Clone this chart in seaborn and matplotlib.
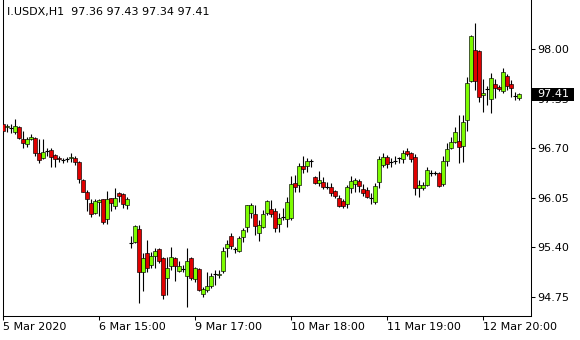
import numpy as np
import pandas as pd
import matplotlib
matplotlib.use("Agg")
import matplotlib.pyplot as plt
from matplotlib.patches import Rectangle
import seaborn as sns

# ---------------- data ----------------
opens = [97.02, 96.98, 96.97, 96.91, 96.98, 96.82, 96.76, 96.82, 96.83, 96.64,
         96.57, 96.66, 96.68, 96.61, 96.57, 96.55, 96.56, 96.57, 96.57, 96.52,
         96.28, 96.13, 95.98, 95.85, 95.99, 96.03, 95.77, 96.05, 95.94, 96.11,
         96.10, 95.95, 95.46, 95.47, 95.64, 95.08, 95.32, 95.17, 95.29, 95.38,
         95.26, 95.00, 95.15, 95.26, 95.09, 95.11, 95.02, 95.26, 94.98, 95.11,
         94.79, 94.84, 94.89, 95.05, 95.04, 95.09, 95.39, 95.55, 95.38, 95.35,
         95.54, 95.67, 95.85, 95.84, 95.59, 95.67, 95.85, 95.90, 95.88, 95.71,
         95.80, 95.77, 95.78, 96.24, 96.22, 96.47, 96.47, 96.53, 96.32, 96.24,
         96.26, 96.19, 96.19, 96.14, 96.05, 96.01, 95.97, 96.18, 96.23, 96.27,
         96.17, 96.15, 96.05, 95.99, 96.26, 96.48, 96.59, 96.52, 96.53, 96.57,
         96.56, 96.66, 96.64, 96.59, 96.18, 96.18, 96.22, 96.37, 96.37, 96.37,
         96.23, 96.53, 96.70, 96.78, 96.80, 96.73, 97.07, 97.58, 97.99, 97.98,
         97.40, 97.48, 97.35, 97.54, 97.50, 97.45, 97.65, 97.54, 97.39, 97.36]

highs = [97.03, 97.02, 97.02, 97.08, 96.99, 96.93, 96.85, 96.89, 96.85, 96.82,
         96.82, 96.70, 96.70, 96.62, 96.60, 96.57, 96.59, 96.64, 96.60, 96.53,
         96.30, 96.15, 96.03, 96.03, 96.03, 96.04, 96.14, 96.05, 96.18, 96.13,
         96.11, 96.06, 95.55, 95.69, 95.69, 95.32, 95.50, 95.34, 95.39, 95.39,
         95.27, 95.27, 95.40, 95.27, 95.22, 95.17, 95.39, 95.27, 95.14, 95.13,
         94.88, 95.08, 95.06, 95.10, 95.10, 95.40, 95.50, 95.59, 95.40, 95.55,
         95.65, 95.96, 95.98, 95.96, 95.76, 95.89, 96.02, 96.02, 95.92, 95.85,
         95.92, 96.06, 96.34, 96.35, 96.51, 96.60, 96.57, 96.56, 96.33, 96.40,
         96.32, 96.26, 96.24, 96.15, 96.09, 96.03, 96.22, 96.34, 96.31, 96.30,
         96.23, 96.19, 96.11, 96.24, 96.60, 96.64, 96.61, 96.57, 96.60, 96.58,
         96.68, 96.70, 96.65, 96.62, 96.28, 96.26, 96.45, 96.41, 96.40, 96.39,
         96.60, 96.77, 96.85, 96.98, 97.14, 97.14, 97.64, 98.19, 98.35, 97.99,
         97.61, 97.52, 97.69, 97.61, 97.53, 97.75, 97.68, 97.60, 97.44, 97.43]

lows = [96.89, 96.91, 96.90, 96.89, 96.82, 96.70, 96.72, 96.81, 96.60, 96.51,
        96.56, 96.60, 96.45, 96.45, 96.52, 96.51, 96.52, 96.52, 96.48, 96.24,
        96.12, 95.88, 95.80, 95.84, 95.81, 95.71, 95.71, 95.88, 95.90, 95.99,
        95.92, 95.90, 95.39, 95.46, 94.67, 94.83, 95.08, 95.13, 95.13, 95.19,
        94.72, 94.77, 95.10, 94.96, 95.08, 95.08, 94.62, 94.97, 94.94, 94.83,
        94.75, 94.81, 94.87, 94.90, 95.00, 95.06, 95.27, 95.38, 95.32, 95.34,
        95.47, 95.60, 95.78, 95.56, 95.48, 95.65, 95.82, 95.80, 95.60, 95.60,
        95.76, 95.67, 95.76, 96.13, 96.13, 96.38, 96.39, 96.45, 96.23, 96.20,
        96.17, 96.17, 96.07, 96.05, 95.93, 95.92, 95.92, 96.11, 96.13, 96.13,
        96.07, 96.05, 95.97, 95.97, 96.18, 96.45, 96.44, 96.45, 96.49, 96.51,
        96.51, 96.60, 96.52, 96.09, 96.06, 96.15, 96.20, 96.33, 96.35, 96.19,
        96.20, 96.47, 96.69, 96.77, 96.51, 96.52, 96.93, 97.57, 97.47, 97.31,
        97.18, 97.27, 97.16, 97.36, 97.45, 97.43, 97.47, 97.37, 97.33, 97.34]

closes = [96.93, 96.99, 96.97, 96.99, 96.83, 96.77, 96.82, 96.85, 96.64, 96.55,
          96.65, 96.66, 96.59, 96.56, 96.56, 96.55, 96.56, 96.59, 96.52, 96.30,
          96.13, 96.03, 95.84, 96.01, 96.02, 95.73, 96.03, 95.98, 96.05, 96.07,
          95.97, 96.03, 95.46, 95.68, 95.08, 95.26, 95.13, 95.29, 95.35, 95.22,
          94.77, 95.13, 95.27, 95.15, 95.15, 95.11, 95.22, 95.00, 95.13, 94.84,
          94.85, 94.89, 95.02, 95.05, 95.05, 95.35, 95.44, 95.42, 95.38, 95.52,
          95.63, 95.95, 95.95, 95.68, 95.69, 95.84, 96.01, 95.84, 95.65, 95.78,
          95.80, 95.99, 96.23, 96.19, 96.47, 96.43, 96.53, 96.53, 96.24, 96.28,
          96.19, 96.19, 96.11, 96.07, 95.94, 95.94, 96.19, 96.27, 96.28, 96.20,
          96.11, 96.06, 96.05, 96.20, 96.56, 96.59, 96.49, 96.52, 96.53, 96.57,
          96.64, 96.62, 96.56, 96.18, 96.22, 96.22, 96.41, 96.37, 96.37, 96.20,
          96.53, 96.69, 96.78, 96.91, 96.72, 97.05, 97.56, 98.17, 97.58, 97.37,
          97.43, 97.48, 97.62, 97.49, 97.48, 97.70, 97.52, 97.49, 97.39, 97.41]

time_tick_bars = [0, 24, 48, 72, 96, 120]
time_tick_labels = ["5 Mar 2020", "6 Mar 15:00", "9 Mar 17:00",
                    "10 Mar 18:00", "11 Mar 19:00", "12 Mar 20:00"]
price_ticks = [98.00, 97.35, 96.70, 96.05, 95.40, 94.75]
title_text = "I.USDX,H1  97.36 97.43 97.34 97.41"
last_price = 97.41

# ---------------- styling ----------------
sns.set_theme(style="white")
plt.rcParams["font.family"] = ["DejaVu Sans"]
plt.rcParams["font.size"] = 8

df = pd.DataFrame({"bar": np.arange(len(opens)), "open": opens, "high": highs,
                   "low": lows, "close": closes})
df["bottom"] = df[["open", "close"]].min(axis=1)
df["height"] = (df["close"] - df["open"]).abs()
df["up"] = df["close"] >= df["open"]

W, H = 580, 340
fig = plt.figure(figsize=(W / 100, H / 100), dpi=100)
fig.patch.set_facecolor("white")
ax = fig.add_axes([3 / W, 24 / H, 528 / W, 316 / H])
ax.set_facecolor("white")

GREEN = "#7CFC00"
RED = "#E00000"

# wicks
ax.vlines(df["bar"], df["low"], df["high"], color="black", linewidth=0.8,
          zorder=2)

# bodies
for up, color in [(True, GREEN), (False, RED)]:
    sub = df[(df["up"] == up) & (df["height"] > 0)]
    ax.bar(sub["bar"], sub["height"], bottom=sub["bottom"], width=0.78,
           color=color, edgecolor="black", linewidth=0.45, zorder=3)

# dojis (open == close)
doji = df[df["height"] == 0]
ax.hlines(doji["close"], doji["bar"] - 0.4, doji["bar"] + 0.4, color="black",
          linewidth=0.8, zorder=3)

# scales: 4 px per bar, price calibrated from tick positions
ax.set_xlim(0, 132)
ax.set_ylim(94.498, 98.647)

ax.set_xticks(time_tick_bars)
ax.set_xticklabels(time_tick_labels, ha="left")
ax.set_yticks(price_ticks)
ax.set_yticklabels([f"{v:.2f}" for v in price_ticks])
ax.yaxis.tick_right()
ax.tick_params(axis="y", which="major", direction="out", length=3, width=0.75,
               pad=1.5, colors="black", labelsize=8, right=True, left=False)
ax.tick_params(axis="x", which="major", direction="out", length=3, width=0.75,
               pad=1.5, colors="black", labelsize=8, bottom=True)
for lab in ax.get_xticklabels():
    lab.set_horizontalalignment("left")

for side in ["left", "bottom", "right"]:
    ax.spines[side].set_visible(True)
    ax.spines[side].set_color("black")
    ax.spines[side].set_linewidth(0.75)
ax.spines["top"].set_visible(False)
ax.grid(False)

# current price marker on the right axis
y_pix = 49.3 + (98.00 - last_price) * 76.15
box = Rectangle((532 / W, (H - y_pix - 6.5) / H), 42 / W, 13 / H,
                transform=fig.transFigure, facecolor="black", edgecolor="none",
                zorder=10)
fig.add_artist(box)
fig.text(537 / W, (H - y_pix) / H, f"{last_price:.2f}", color="white",
         fontsize=8, ha="left", va="center", zorder=11)

# title
fig.text(7 / W, (H - 12) / H, title_text, color="black", fontsize=8,
         ha="left", va="center")

fig.savefig("out.png", dpi=100, facecolor="white")
